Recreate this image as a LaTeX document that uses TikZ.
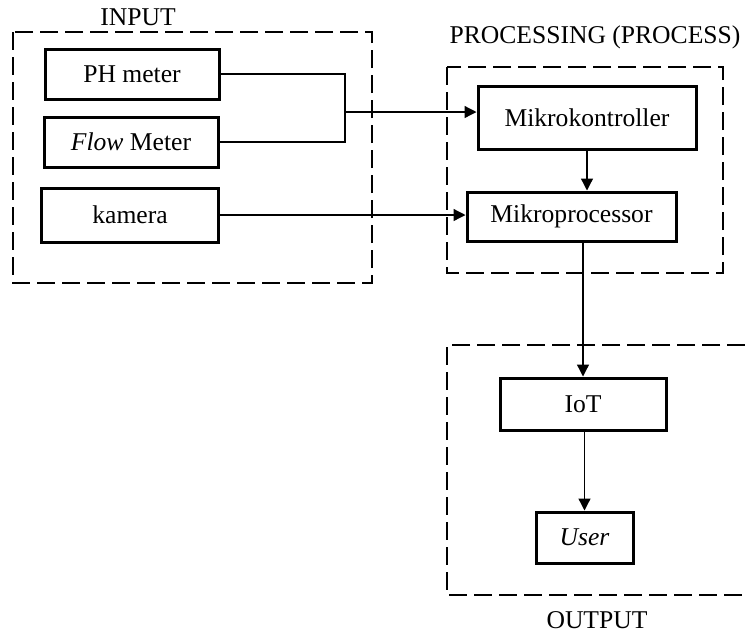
\documentclass[tikz,border=0pt]{standalone}
\usepackage{fontspec}
\setmainfont{Liberation Serif}
\usepackage{tikz}
\usetikzlibrary{arrows.meta}
\tikzset{
  blok/.style={draw=black, line width=1.5pt, inner sep=0pt, font=\fontsize{12.8}{15}\selectfont},
  grup/.style={draw=black, line width=0.9pt, dash pattern=on 9pt off 3.5pt},
  lijn/.style={draw=black, line width=0.65pt},
  panah/.style={lijn, -{Triangle[length=6pt,width=6pt]}},
  judul/.style={font=\fontsize{12.8}{15}\selectfont},
}

\begin{document}
\begin{tikzpicture}[x=0.5pt,y=-0.5pt]
  \useasboundingbox (0,0) rectangle (745,639);
  % kelompok
  \draw[grup] (13,32) rectangle (372,283);
  \draw[grup] (447,67) rectangle (723,273);
  \draw[grup] (745,345) -- (447,345) -- (447,595) -- (745,595);
  \node[judul] (tin) at (138,17) {INPUT};
  \node[judul] (tproc) at (595,37) {PROCESSING (PROCESS)};
  \node[judul] (tout) at (597,620) {OUTPUT};
  % blok
  \node[blok, minimum width=87pt, minimum height=25pt] (ph) at (132,74) {PH meter};
  \node[blok, minimum width=87pt, minimum height=25pt] (flow) at (131,142) {\textit{Flow} Meter};
  \node[blok, minimum width=88.5pt, minimum height=27pt] (kam) at (130,215) {kamera};
  \node[blok, minimum width=109pt, minimum height=31.5pt] (mk) at (587,117.5) {Mikrokontroller};
  \node[blok, minimum width=104.5pt, minimum height=24.5pt] (mp) at (571.5,216.5) {Mikroprocessor};
  \node[blok, minimum width=83pt, minimum height=26pt] (iot) at (583,404) {IoT};
  \node[blok, minimum width=48.5pt, minimum height=25.5pt] (usr) at (584.5,537.5) {\textit{User}};
  % panah
  \coordinate (j) at (345,112);
  \draw[lijn] (ph.east) -| (j);
  \draw[lijn] (flow.east) -| (j);
  \draw[panah] (j) -- (j -| mk.west);
  \draw[panah] (kam.east) -- (kam.east -| mp.west);
  \draw[panah] (mk.south) -- (mk.south |- mp.north);
  \draw[panah] (iot.north |- mp.south) -- (iot.north);
  \draw[panah] (usr.north |- iot.south) -- (usr.north);
\end{tikzpicture}
\end{document}
